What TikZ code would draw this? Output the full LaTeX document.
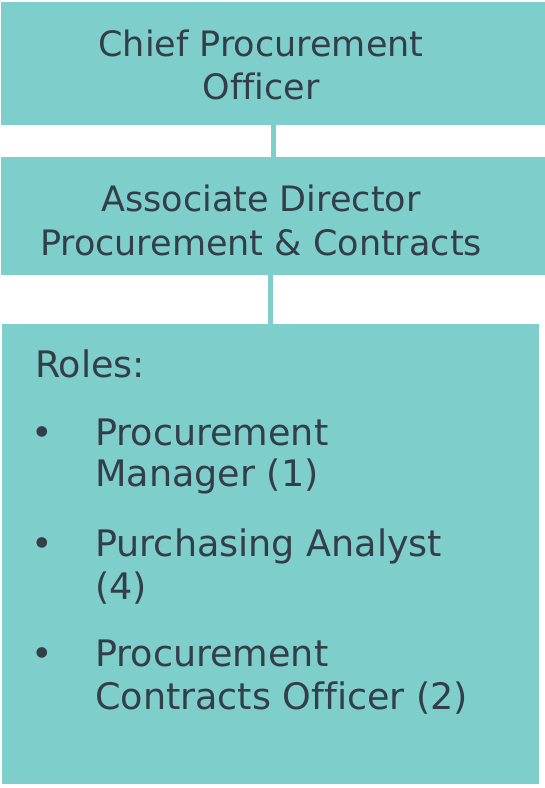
\documentclass[tikz,border=0pt]{standalone}
\usepackage{fontspec}
\setmainfont{DejaVu Sans}[Ligatures=NoCommon]
\definecolor{boxfill}{RGB}{126,206,204}
\definecolor{txt}{RGB}{51,62,72}
\begin{document}
\begin{tikzpicture}[x=1pt,y=1pt,
  box/.style={rectangle, fill=boxfill, draw=none, inner sep=0pt, outer sep=0pt},
  conn/.style={draw=boxfill, line width=5pt},
  lbl/.style={inner sep=0pt, text=txt, font=\fontsize{35}{43}\selectfont},
  ctr/.style={lbl, anchor=base},
  lft/.style={lbl, anchor=base west, font=\fontsize{36.5}{43}\selectfont},
  bul/.style={lbl, anchor=base, font=\fontsize{36.5}{43}\selectfont}]
\useasboundingbox (0,0) rectangle (545,788);
% boxes
\node[box, minimum width=544, minimum height=123] (b1) at (273,724.5) {};
\node[box, minimum width=544, minimum height=118] (b2) at (273,572) {};
\node[box, minimum width=537.5, minimum height=460] (b3) at (270.25,234) {};
% connectors
\draw[conn] (b1.south) -- (b2.north);
\draw[conn] (b2.south -| b3.north) -- (b3.north);
% box 1 text
\node[ctr] (t1a) at (261,731) {Chief Procurement};
\node[ctr] (t1b) at (261,688) {Officer};
% box 2 text
\node[ctr] (t2a) at (261,576) {Associate Director};
\node[ctr] (t2b) at (261,532) {Procurement \& Contracts};
% box 3 text
\node[lft] (roles) at (35,410) {Roles:};
\node[bul] (u1) at (42,342) {•};
\node[lft] (i1a) at (95,342) {Procurement};
\node[lft] (i1b) at (95,301) {Manager (1)};
\node[bul] (u2) at (42,231) {•};
\node[lft] (i2a) at (95,231) {Purchasing Analyst};
\node[lft] (i2b) at (95,188) {(4)};
\node[bul] (u3) at (42,121) {•};
\node[lft] (i3a) at (95,121) {Procurement};
\node[lft] (i3b) at (95,78) {Contracts Officer (2)};
\end{tikzpicture}
\end{document}
